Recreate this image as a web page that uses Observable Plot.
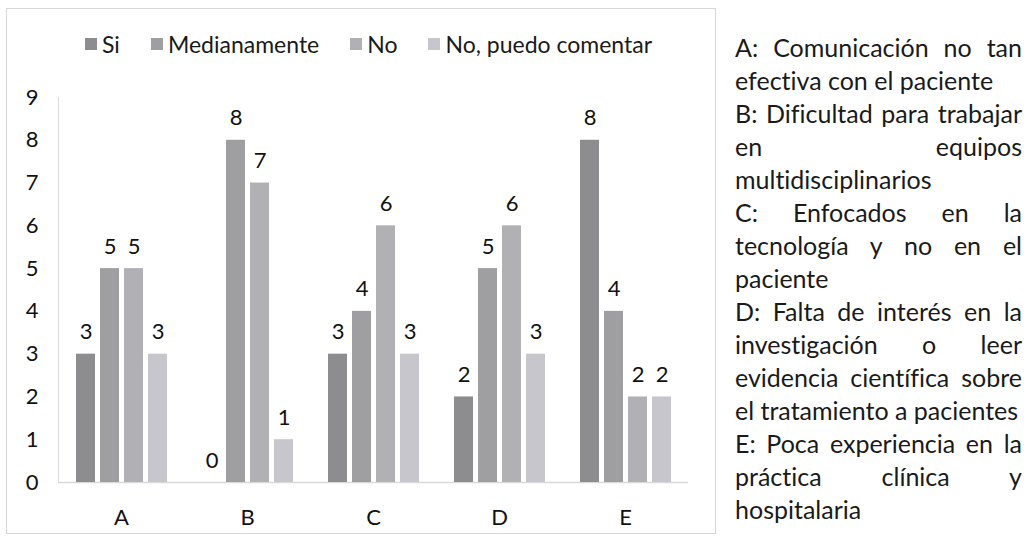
<!DOCTYPE html>
<html>
<head>
<meta charset="utf-8">
<script src="https://cdn.jsdelivr.net/npm/d3@7"></script>
<script src="https://cdn.jsdelivr.net/npm/@observablehq/plot@0.6"></script>
<style>
  html, body { margin: 0; padding: 0; background: #fff; }
  body { width: 1035px; height: 541px; position: relative; overflow: hidden; font-family: Lato, "Open Sans", sans-serif; color: #1a1a1a; font-variant-ligatures: none; }
  #frame { position: absolute; left: 6px; top: 8px; width: 710px; height: 526px; border: 1px solid #d6d6d6; box-sizing: border-box; }
  #chart { position: absolute; left: 0; top: 0; }
  #legend { position: absolute; left: 85px; top: 29px; display: flex; align-items: center; font-size: 23px; line-height: 30px; white-space: nowrap; }
  #legend .item { display: flex; align-items: center; margin-right: 31px; }
  #legend .sw { width: 12px; height: 12px; margin-right: 5px; }
  #notes { position: absolute; left: 735px; top: 31px; width: 287px; font-size: 25px; line-height: 33px; }
  #notes .l { white-space: nowrap; }
  #notes .j { text-align: justify; text-align-last: justify; }
</style>
</head>
<body>
<div id="frame"></div>
<div id="chart"></div>
<div id="legend"></div>
<div id="notes"></div>
<script>
// ---- data ----
const categories = ["A", "B", "C", "D", "E"];
const seriesNames = ["Si", "Medianamente", "No", "No, puedo comentar"];
const si = [3, 0, 3, 2, 8];
const medianamente = [5, 8, 4, 5, 4];
const no = [5, 7, 6, 6, 2];
const noPuedoComentar = [3, 1, 3, 3, 2];
const seriesColors = ["#8d8c8f", "#9f9ea1", "#b1b0b4", "#c7c6cc"];
const yTicks = [0, 1, 2, 3, 4, 5, 6, 7, 8, 9];
// note lines (each paragraph split as in the reference)
const noteLines = [
  ["A: Comunicación no tan", "efectiva con el paciente"],
  ["B: Dificultad para trabajar", "en equipos", "multidisciplinarios"],
  ["C: Enfocados en la", "tecnología y no en el", "paciente"],
  ["D: Falta de interés en la", "investigación o leer", "evidencia científica sobre", "el tratamiento a pacientes"],
  ["E: Poca experiencia en la", "práctica clínica y", "hospitalaria"]
];

const seriesValues = [si, medianamente, no, noPuedoComentar];
const data = [];
categories.forEach((c, i) => {
  seriesNames.forEach((s, j) => data.push({cat: c, series: s, value: seriesValues[j][i]}));
});

const chart = Plot.plot({
  width: 720,
  height: 541,
  marginLeft: 58,
  marginRight: 32,
  marginTop: 97,
  marginBottom: 59,
  style: {fontFamily: "Lato, sans-serif", fontSize: "22px", color: "#111", background: "transparent"},
  fx: {domain: categories, padding: 0, label: null, axis: "bottom", tickSize: 0, tickPadding: 27},
  x: {domain: seriesNames, paddingInner: 0.224, paddingOuter: 0.684, axis: null},
  y: {domain: [0, 9], ticks: yTicks, tickSize: 0, tickPadding: 20, label: null, tickFormat: d3.format("d")},
  color: {domain: seriesNames, range: seriesColors},
  marks: [
    Plot.frame({anchor: "left", stroke: "#d9d9d9", fx: ["A"]}),
    Plot.ruleY([0], {stroke: "#d9d9d9", strokeWidth: 1.5}),
    Plot.barY(data, {fx: "cat", x: "series", y: "value", fill: "series"}),
    Plot.text(data, {fx: "cat", x: "series", y: "value", text: d => String(d.value), lineAnchor: "bottom", dy: -15, fontSize: 22, fill: "#111"})
  ]
});
document.getElementById("chart").appendChild(chart);

// legend
const legend = document.getElementById("legend");
seriesNames.forEach((s, j) => {
  const item = document.createElement("div");
  item.className = "item";
  const sw = document.createElement("span");
  sw.className = "sw";
  sw.style.background = seriesColors[j];
  const t = document.createElement("span");
  t.textContent = s;
  item.appendChild(sw);
  item.appendChild(t);
  legend.appendChild(item);
});

// notes
const notes = document.getElementById("notes");
noteLines.forEach(par => {
  par.forEach((line, k) => {
    const d = document.createElement("div");
    d.className = "l" + (k < par.length - 1 ? " j" : "");
    d.textContent = line;
    notes.appendChild(d);
  });
});
</script>
</body>
</html>
